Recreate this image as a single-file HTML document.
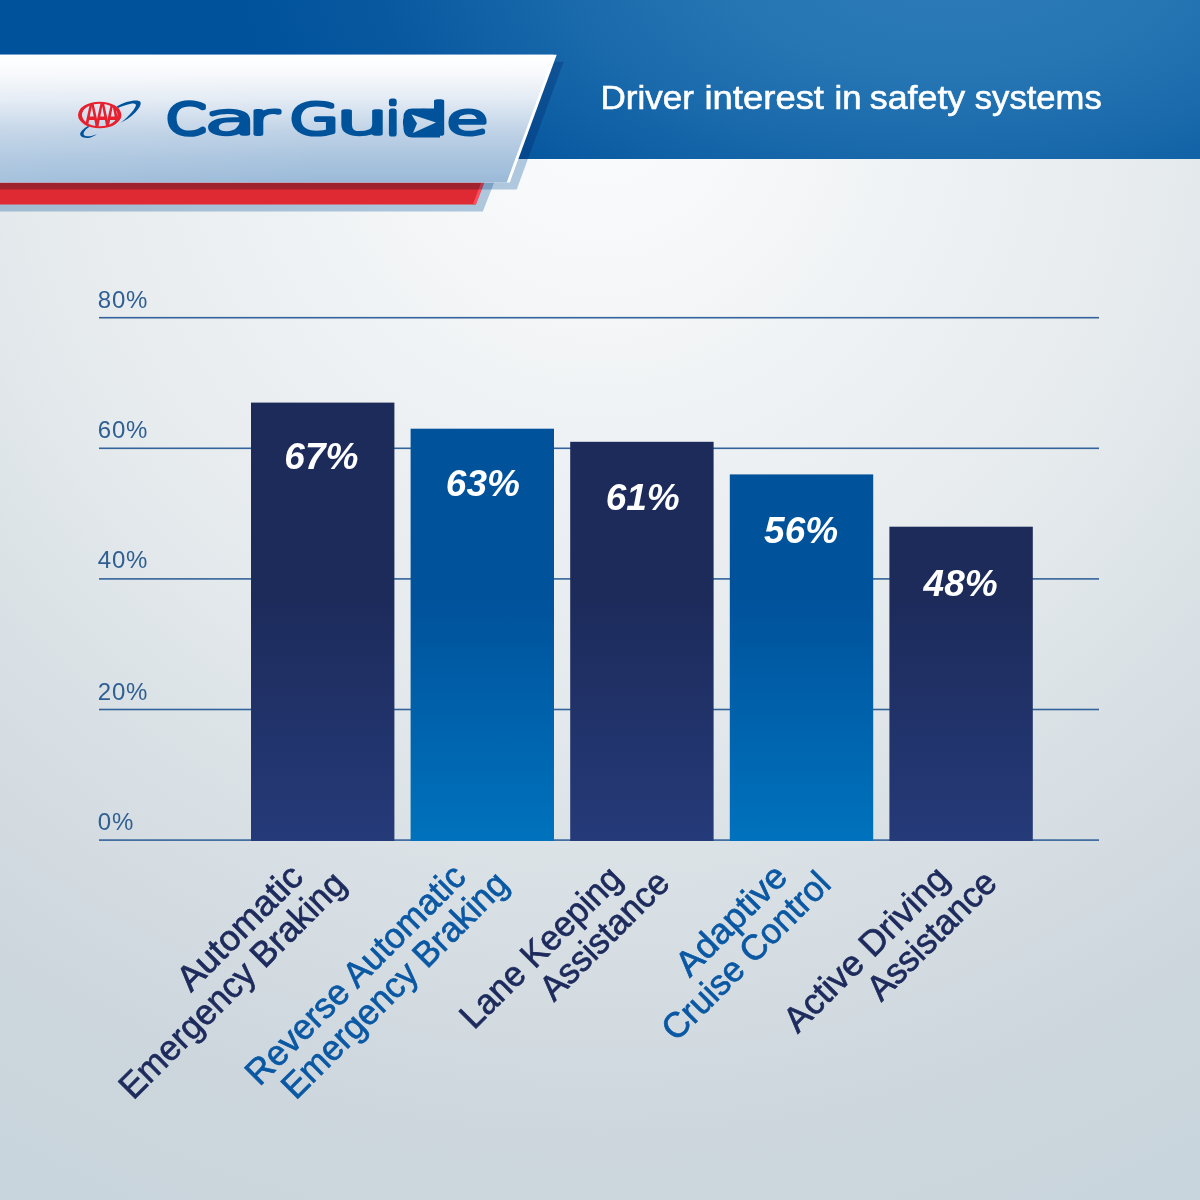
<!DOCTYPE html>
<html lang="en">
<head>
<meta charset="utf-8">
<title>Driver interest in safety systems</title>
<style>
html,body{margin:0;padding:0;}
body{width:1200px;height:1200px;overflow:hidden;position:relative;font-family:"Liberation Sans",sans-serif;
 background:#dfe5e9;}
#bg{position:absolute;left:0;top:0;width:1200px;height:1200px;
 background:radial-gradient(circle 1200px at 600px 100px, #fafbfc 0%, #f8f9fa 10%, #f0f3f5 25%, #e5eaed 49%, #e1e7ea 54%, #d7dfe4 69%, #cdd6dd 87.5%, #c9d5dc 100%);}
#hdr{position:absolute;left:0;top:0;width:1200px;height:158.5px;
 background:radial-gradient(ellipse 720px 340px at 950px -30px, #2d7cb8 0%, #2676b4 30%, #1c6cad 50%, #1162a6 65%, #07589f 80%, #00529b 100%);}
svg{position:absolute;left:0;top:0;}
.aaa{font-family:"Liberation Sans",sans-serif;font-weight:700;font-size:32.5px;letter-spacing:-6.5px;}
.wm{font-family:"DejaVu Sans Light","DejaVu Sans",sans-serif;font-weight:200;font-size:42.2px;vector-effect:non-scaling-stroke;}
.tt{font-family:"Liberation Sans",sans-serif;font-size:34px;stroke-width:0.6px;}
.yt{font-family:"Liberation Sans",sans-serif;font-size:24px;letter-spacing:0.8px;}
.nt{font-family:"Liberation Sans",sans-serif;font-size:37px;font-weight:700;font-style:italic;}
.lt{font-family:"Liberation Sans",sans-serif;font-size:35.5px;stroke-width:0.7px;}
</style>
</head>
<body>
<div id="bg"></div>
<div id="hdr"></div>
<svg id="banner" width="1200" height="260" viewBox="0 0 1200 260">
 <defs>
  <linearGradient id="wg" gradientUnits="userSpaceOnUse" x1="0" y1="54.7" x2="0" y2="182.4">
   <stop offset="0" stop-color="#ffffff"/>
   <stop offset="0.12" stop-color="#fafbfd"/>
   <stop offset="0.35" stop-color="#e3ebf4"/>
   <stop offset="0.60" stop-color="#bfd2e6"/>
   <stop offset="0.80" stop-color="#abc5df"/>
   <stop offset="1" stop-color="#9bbad8"/>
  </linearGradient>
  <linearGradient id="wh" x1="0" y1="0" x2="1" y2="0"><stop offset="0" stop-color="#fff" stop-opacity="0.10"/><stop offset="1" stop-color="#fff" stop-opacity="0"/></linearGradient>
 </defs>
 <!-- red strip shadow -->
 <polygon points="0,170 499,170 482.8,211.5 0,211.5" fill="#b5cde2" style="mix-blend-mode:multiply"/>
 <!-- red strip -->
 <polygon points="0,170 489,170 475.8,204.5 0,204.5" fill="#e02a33"/>
 <polygon points="486,170 489,170 475.8,204.5 472.8,204.5" fill="#ff4d5e"/>
 <!-- banner shadow -->
 <polygon points="0,61.7 563.7,61.7 516.7,189.4 0,189.4" fill="#b5cde2" style="mix-blend-mode:multiply"/>
 <!-- banner -->
 <polygon points="0,54.7 556.7,54.7 509.7,182.4 0,182.4" fill="#ffffff"/>
 <polygon points="0,54.7 553.7,54.7 506.7,182.4 0,182.4" fill="url(#wg)"/>
 <rect x="0" y="54.7" width="330" height="127.7" fill="url(#wh)"/>

 <!-- AAA logo -->
 <g id="aaa">
  <path d="M116.7,106.6 C124,102 134,99.6 139,100.9 C142.5,102 140.5,107 135.5,112.2 C130.5,117.4 125,120.6 120.2,122.8 C126.5,118.6 133.5,111 135.6,106.4 C136.8,103.6 134.6,103 130,103.9 C126,104.7 121.5,106.3 118,108 Z" fill="#00539b"/>
  <path d="M88,126 C83.5,128.5 79.8,132 80.2,134.6 C80.6,137.4 84.5,138.3 88.5,137.9 C91.5,137.6 94.5,136 96.8,134.3 C93.5,135.6 89.5,136.6 86.6,136.3 C84,136 83,134.7 83.8,132.6 C84.7,130.3 87,128.3 89.6,126.8 Z" fill="#00539b"/>
  <path fill-rule="evenodd" fill="#e8202e" d="M78,115 a21.7,13.3 0 1,0 43.4,0 a21.7,13.3 0 1,0 -43.4,0 Z M82,115 a17.7,11.2 0 1,0 35.4,0 a17.7,11.2 0 1,0 -35.4,0 Z"/>
  <clipPath id="aclip"><ellipse cx="99.7" cy="115" rx="19" ry="12"/></clipPath>
  <g clip-path="url(#aclip)"><text class="aaa" transform="translate(100.2,126.4) scale(0.62,1)" text-anchor="middle" fill="#e8202e">AAA</text></g>
 </g>
 <!-- CarGuide wordmark -->
 <g id="wordmark" fill="#00539b" stroke="#00539b" stroke-width="5.4" stroke-linejoin="round"><title>CarGuide</title><g transform="translate(165.72,134.45) scale(1.364,1)"><text class="wm">C</text></g><g transform="translate(204.56,134.45) scale(2.004,1)"><text class="wm">a</text></g><g transform="translate(248.60,134.45) scale(1.722,1)"><text class="wm">r</text></g><g transform="translate(289.33,134.45) scale(1.523,1)"><text class="wm">G</text></g><g transform="translate(335.70,134.45) scale(1.985,1)"><text class="wm">u</text></g><g transform="translate(386.45,134.45) scale(1.108,1)"><text class="wm">i</text></g><g transform="translate(399.95,134.45) scale(1.860,1)"><text class="wm">d</text></g><g transform="translate(446.27,134.45) scale(1.626,1)"><text class="wm">e</text></g></g>
 <path d="M412.5,108.5 H440 V137.5 H412.5 Q403.5,137.5 403.5,128.5 V117.5 Q403.5,108.5 412.5,108.5 Z" fill="#00539b"/>
 <polygon points="411.5,114.5 436,122.5 413,133 417,123.5" fill="url(#wg)"/>
</svg>
<svg id="chart" width="1200" height="1200" viewBox="0 0 1200 1200">
 <defs>
  <linearGradient id="gd" gradientUnits="userSpaceOnUse" x1="0" y1="400" x2="0" y2="841"><stop offset="0" stop-color="#1d2b5b"/><stop offset="0.45" stop-color="#1d2b5b"/><stop offset="1" stop-color="#253a79"/></linearGradient>
  <linearGradient id="gb" gradientUnits="userSpaceOnUse" x1="0" y1="400" x2="0" y2="841"><stop offset="0" stop-color="#00529b"/><stop offset="0.45" stop-color="#00529b"/><stop offset="1" stop-color="#0072bd"/></linearGradient>
 </defs>
 <rect x="99" y="316.9" width="1000" height="1.6" fill="#33639a"/>
 <rect x="99" y="447.5" width="1000" height="1.6" fill="#33639a"/>
 <rect x="99" y="578.1" width="1000" height="1.6" fill="#33639a"/>
 <rect x="99" y="708.7" width="1000" height="1.6" fill="#33639a"/>
 <rect x="99" y="839.3" width="1000" height="1.6" fill="#33639a"/>
 <rect x="251.0" y="402.6" width="143.4" height="438.4" fill="url(#gd)"/>
 <rect x="410.6" y="428.7" width="143.4" height="412.3" fill="url(#gb)"/>
 <rect x="570.2" y="441.8" width="143.4" height="399.2" fill="url(#gd)"/>
 <rect x="729.8" y="474.4" width="143.4" height="366.6" fill="url(#gb)"/>
 <rect x="889.4" y="526.7" width="143.4" height="314.3" fill="url(#gd)"/>
</svg>
<svg id="labels" width="1200" height="1200" viewBox="0 0 1200 1200" style="pointer-events:none">
 <text class="yt" x="97.8" y="307.7" fill="#2f5f92">80%</text>
 <text class="yt" x="97.8" y="437.7" fill="#2f5f92">60%</text>
 <text class="yt" x="97.8" y="567.8" fill="#2f5f92">40%</text>
 <text class="yt" x="97.8" y="699.8" fill="#2f5f92">20%</text>
 <text class="yt" x="97.8" y="829.7" fill="#2f5f92">0%</text>
 <text class="tt" y="109.3" fill="#fff" stroke="#fff"><tspan x="600.5" textLength="93.5" lengthAdjust="spacingAndGlyphs">Driver</tspan> <tspan x="704.5" textLength="119.5" lengthAdjust="spacingAndGlyphs">interest</tspan> <tspan x="834.5" textLength="27" lengthAdjust="spacingAndGlyphs">in</tspan> <tspan x="869.75" textLength="95.5" lengthAdjust="spacingAndGlyphs">safety</tspan> <tspan x="974.75" textLength="127" lengthAdjust="spacingAndGlyphs">systems</tspan></text>
 <text class="nt" x="321.4" y="469.0" text-anchor="middle" fill="#fff">67%</text>
 <text class="nt" x="482.9" y="496.0" text-anchor="middle" fill="#fff">63%</text>
 <text class="nt" x="642.75" y="510.2" text-anchor="middle" fill="#fff">61%</text>
 <text class="nt" x="801.15" y="542.7" text-anchor="middle" fill="#fff">56%</text>
 <text class="nt" x="960.6" y="596.0" text-anchor="middle" fill="#fff">48%</text>
 <text class="lt" x="191.0" y="993.0" textLength="161.2" lengthAdjust="spacingAndGlyphs" fill="#1d2a5c" stroke="#1d2a5c" transform="rotate(-45 191.0 993.0)">Automatic</text>
 <text class="lt" x="133.2" y="1100.8" textLength="303.8" lengthAdjust="spacingAndGlyphs" fill="#1d2a5c" stroke="#1d2a5c" transform="rotate(-45 133.2 1100.8)">Emergency Braking</text>
 <text class="lt" x="259.5" y="1087.0" textLength="294.2" lengthAdjust="spacingAndGlyphs" fill="#0a58a3" stroke="#0a58a3" transform="rotate(-45 259.5 1087.0)">Reverse Automatic</text>
 <text class="lt" x="295.7" y="1100.8" textLength="303.8" lengthAdjust="spacingAndGlyphs" fill="#0a58a3" stroke="#0a58a3" transform="rotate(-45 295.7 1100.8)">Emergency Braking</text>
 <text class="lt" x="474.1" y="1030.6" textLength="212" lengthAdjust="spacingAndGlyphs" fill="#1d2a5c" stroke="#1d2a5c" transform="rotate(-45 474.1 1030.6)">Lane Keeping</text>
 <text class="lt" x="553.9" y="1002.5" textLength="166.4" lengthAdjust="spacingAndGlyphs" fill="#1d2a5c" stroke="#1d2a5c" transform="rotate(-45 553.9 1002.5)">Assistance</text>
 <text class="lt" x="689.8" y="978.2" textLength="140.6" lengthAdjust="spacingAndGlyphs" fill="#0a58a3" stroke="#0a58a3" transform="rotate(-45 689.8 978.2)">Adaptive</text>
 <text class="lt" x="676.1" y="1042.6" textLength="221.4" lengthAdjust="spacingAndGlyphs" fill="#0a58a3" stroke="#0a58a3" transform="rotate(-45 676.1 1042.6)">Cruise Control</text>
 <text class="lt" x="797.8" y="1034.2" textLength="217.1" lengthAdjust="spacingAndGlyphs" fill="#1d2a5c" stroke="#1d2a5c" transform="rotate(-45 797.8 1034.2)">Active Driving</text>
 <text class="lt" x="881.2" y="1002.5" textLength="166.4" lengthAdjust="spacingAndGlyphs" fill="#1d2a5c" stroke="#1d2a5c" transform="rotate(-45 881.2 1002.5)">Assistance</text>
</svg>
</body>
</html>
